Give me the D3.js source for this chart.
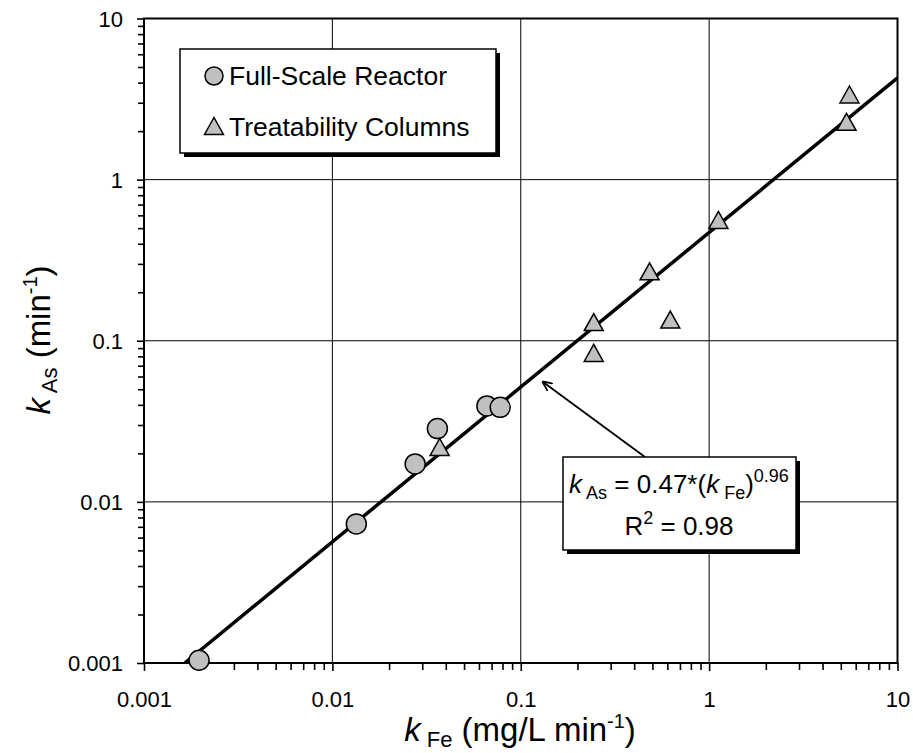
<!DOCTYPE html>
<html>
<head>
<meta charset="utf-8">
<script src="https://cdn.jsdelivr.net/npm/d3@7"></script>
<style>
  body { margin: 0; background: #fff; }
  svg { display: block; font-family: "Liberation Sans", Arial, sans-serif; }
</style>
</head>
<body>
<script>
// data
var reactorFe = [0.00196, 0.0134, 0.0275, 0.0361, 0.0661, 0.0778];
var reactorAs = [0.00104, 0.0073, 0.0172, 0.0285, 0.0394, 0.0386];

var columnFe = [0.0371, 0.244, 0.244, 0.483, 0.622, 1.12, 5.36, 5.56];
var columnAs = [0.0213, 0.127, 0.0817, 0.262, 0.1315, 0.546, 2.22, 3.28];

var majorTicks = [0.001, 0.01, 0.1, 1, 10];
var tickLabels = ['0.001', '0.01', '0.1', '1', '10'];

var legendLabels = ['Full-Scale Reactor', 'Treatability Columns'];

// fit kAs = 0.47 * kFe^0.96
var fitA = 0.47;
var fitB = 0.96;
var fitR2 = 0.98;

(function () {

    var width = 913, height = 753;
    // plot box (window.top is read-only, so no bare "top")
    var pL = 144, pR = 897.5, pT = 18.5, pB = 663;

    var svg = d3.select('body').append('svg')
        .attr('width', width)
        .attr('height', height);

    var x = d3.scaleLog().domain([0.001, 10]).range([pL, pR]);
    var y = d3.scaleLog().domain([0.001, 10]).range([pB, pT]);

    // minor ticks 2..9 in each decade
    var minorTicks = [];
    majorTicks.slice(0, -1).forEach(function (m) {
        for (var k = 2; k <= 9; k++) minorTicks.push(m * k);
    });

    var defs = svg.append('defs');
    defs.append('clipPath').attr('id', 'plotclip')
        .append('rect')
        .attr('x', pL).attr('y', pT)
        .attr('width', pR - pL).attr('height', pB - pT);

    defs.append('marker')
        .attr('id', 'arrowhead')
        .attr('viewBox', '0 -5 10 10')
        .attr('refX', 9).attr('refY', 0)
        .attr('markerWidth', 10).attr('markerHeight', 10)
        .attr('markerUnits', 'userSpaceOnUse')
        .attr('orient', 'auto')
      .append('path')
        .attr('d', 'M0,-4.5L10,0L0,4.5')
        .attr('fill', 'none')
        .attr('stroke', '#000')
        .attr('stroke-width', 1.8);

    // grid
    var grid = svg.append('g').attr('class', 'grid');
    grid.selectAll('line.gx').data(majorTicks.slice(1, -1)).enter().append('line')
        .attr('x1', function (d) { return x(d); }).attr('x2', function (d) { return x(d); })
        .attr('y1', pT).attr('y2', pB)
        .attr('stroke', '#000').attr('stroke-width', 1);
    grid.selectAll('line.gy').data(majorTicks.slice(1, -1)).enter().append('line')
        .attr('y1', function (d) { return y(d); }).attr('y2', function (d) { return y(d); })
        .attr('x1', pL).attr('x2', pR)
        .attr('stroke', '#000').attr('stroke-width', 1);

    // axes
    var fmt = function (d) { return tickLabels[majorTicks.indexOf(d)]; };

    function styleAxis(g) {
        g.select('.domain').remove();
        g.selectAll('line').attr('stroke', '#000').attr('stroke-width', 1.6);
        g.selectAll('text').attr('font-size', 22).attr('fill', '#000');
    }

    svg.append('g')
        .attr('transform', 'translate(' + pL + ',0)')
        .call(d3.axisLeft(y).tickValues(minorTicks).tickSize(6).tickFormat(''))
        .call(styleAxis);
    svg.append('g')
        .attr('transform', 'translate(' + pL + ',0)')
        .call(d3.axisLeft(y).tickValues(majorTicks).tickSize(7).tickPadding(14).tickFormat(fmt))
        .call(styleAxis)
        .selectAll('text').attr('dy', '0.36em');

    svg.append('g')
        .attr('transform', 'translate(0,' + pB + ')')
        .call(d3.axisBottom(x).tickValues(minorTicks).tickSize(7).tickFormat(''))
        .call(styleAxis);
    svg.append('g')
        .attr('transform', 'translate(0,' + pB + ')')
        .call(d3.axisBottom(x).tickValues(majorTicks).tickSize(8).tickPadding(20).tickFormat(fmt))
        .call(styleAxis);

    // frame
    svg.append('rect')
        .attr('x', pL).attr('y', pT)
        .attr('width', pR - pL).attr('height', pB - pT)
        .attr('fill', 'none').attr('stroke', '#000').attr('stroke-width', 2);

    // fitted line
    var fitFe = [Math.pow(0.001 / fitA, 1 / fitB), 10];
    var line = d3.line()
        .x(function (d) { return x(d); })
        .y(function (d) { return y(fitA * Math.pow(d, fitB)); });

    svg.append('path')
        .datum(fitFe)
        .attr('clip-path', 'url(#plotclip)')
        .attr('d', line)
        .attr('fill', 'none')
        .attr('stroke', '#000')
        .attr('stroke-width', 3.5);

    // markers
    var tri = 'M0,-10.5L9.5,6.5L-9.5,6.5Z';

    svg.append('g').selectAll('path').data(columnFe).enter().append('path')
        .attr('d', tri)
        .attr('transform', function (d, i) { return 'translate(' + x(d) + ',' + y(columnAs[i]) + ')'; })
        .attr('fill', '#c0c0c0').attr('stroke', '#000').attr('stroke-width', 1.5);

    svg.append('g').selectAll('circle').data(reactorFe).enter().append('circle')
        .attr('cx', function (d) { return x(d); })
        .attr('cy', function (d, i) { return y(reactorAs[i]); })
        .attr('r', 10)
        .attr('fill', '#c0c0c0').attr('stroke', '#000').attr('stroke-width', 1.5);

    // legend
    var lg = svg.append('g');
    lg.append('rect')
        .attr('x', 184).attr('y', 53).attr('width', 316).attr('height', 104)
        .attr('fill', '#000');
    lg.append('rect')
        .attr('x', 180).attr('y', 49).attr('width', 316).attr('height', 104)
        .attr('fill', '#fff').attr('stroke', '#000').attr('stroke-width', 1.5);

    lg.append('circle')
        .attr('cx', 214).attr('cy', 76).attr('r', 9)
        .attr('fill', '#c0c0c0').attr('stroke', '#000').attr('stroke-width', 1.5);
    lg.append('path')
        .attr('d', tri)
        .attr('transform', 'translate(214,128)')
        .attr('fill', '#c0c0c0').attr('stroke', '#000').attr('stroke-width', 1.5);

    lg.selectAll('text').data(legendLabels).enter().append('text')
        .attr('x', 229)
        .attr('y', function (d, i) { return 85 + i * 51; })
        .attr('font-size', 26.5)
        .text(function (d) { return d; });

    // axis titles
    var xt = svg.append('text')
        .attr('x', 520)
        .attr('y', 741)
        .attr('text-anchor', 'middle')
        .attr('font-size', 33);
    xt.append('tspan').attr('font-style', 'italic').text('k');
    xt.append('tspan').attr('font-size', 22).attr('dy', 6).text(' Fe');
    xt.append('tspan').attr('dy', -6).text(' (mg/L min');
    xt.append('tspan').attr('font-size', 20).attr('dy', -13).text('-1');
    xt.append('tspan').attr('dy', 13).text(')');

    var yt = svg.append('text')
        .attr('transform', 'translate(50,340) rotate(-90)')
        .attr('text-anchor', 'middle')
        .attr('font-size', 33);
    yt.append('tspan').attr('font-style', 'italic').text('k');
    yt.append('tspan').attr('font-size', 22).attr('dy', 7).text(' As');
    yt.append('tspan').attr('dy', -7).text(' (min');
    yt.append('tspan').attr('font-size', 20).attr('dy', -13).text('-1');
    yt.append('tspan').attr('dy', 13).text(')');

    // annotation with arrow
    svg.append('line')
        .attr('x1', 645).attr('y1', 457)
        .attr('x2', 543).attr('y2', 382)
        .attr('stroke', '#000').attr('stroke-width', 1.8)
        .attr('marker-end', 'url(#arrowhead)');

    var an = svg.append('g');
    an.append('rect')
        .attr('x', 567).attr('y', 461).attr('width', 233).attr('height', 93)
        .attr('fill', '#000');
    an.append('rect')
        .attr('x', 563).attr('y', 457).attr('width', 233).attr('height', 93)
        .attr('fill', '#fff').attr('stroke', '#000').attr('stroke-width', 1.5);

    var eq = an.append('text')
        .attr('x', 679).attr('y', 493)
        .attr('text-anchor', 'middle')
        .attr('font-size', 26);
    eq.append('tspan').attr('font-style', 'italic').text('k');
    eq.append('tspan').attr('font-size', 18).attr('dy', 6).text(' As');
    eq.append('tspan').attr('dy', -6).text(' = ' + fitA + '*(');
    eq.append('tspan').attr('font-style', 'italic').text('k');
    eq.append('tspan').attr('font-size', 18).attr('dy', 6).text(' Fe');
    eq.append('tspan').attr('dy', -6).text(')');
    eq.append('tspan').attr('font-size', 18).attr('dy', -11).text(fitB.toFixed(2));

    var r2 = an.append('text')
        .attr('x', 679).attr('y', 535)
        .attr('text-anchor', 'middle')
        .attr('font-size', 26);
    r2.append('tspan').text('R');
    r2.append('tspan').attr('font-size', 18).attr('dy', -11).text('2');
    r2.append('tspan').attr('dy', 11).text(' = ' + fitR2.toFixed(2));

})();
</script>
</body>
</html>
